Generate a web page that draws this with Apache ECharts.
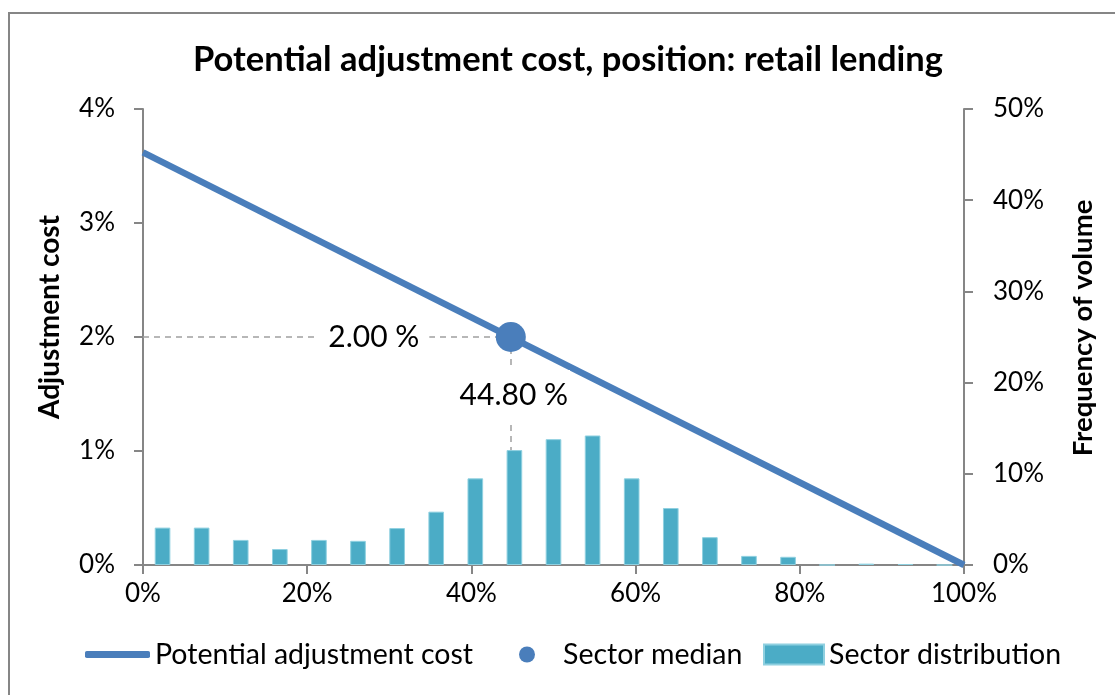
<!DOCTYPE html>
<html>
<head>
<meta charset="utf-8">
<script src="https://cdn.jsdelivr.net/npm/echarts@6/dist/echarts.min.js"></script>
<style>
html,body{margin:0;padding:0;background:#fff;}
#chart{width:1115px;height:695px;}
</style>
</head>
<body>
<div id="chart"></div>
<script>
// ---- data ----
const titleText = 'Potential adjustment cost, position: retail lending';
const xTicks = [0, 20, 40, 60, 80, 100];            // position (%)
const leftTicks = [0, 1, 2, 3, 4];                   // adjustment cost (%)
const rightTicks = [0, 10, 20, 30, 40, 50];          // frequency of volume (%)
const costLineX = [0, 100];                          // position (%)
const costLineY = [3.62, 0];                         // adjustment cost (%)
const medianX = [44.8];                              // sector median position (%)
const medianY = [2.0];                               // sector median cost (%)
const binLabels = ['1','2','3','4','5','6','7','8','9','10','11','12','13','14','15','16','17','18','19','20','21'];
const binFreq = [4.1, 4.1, 2.75, 1.75, 2.75, 2.65, 4.05, 5.85, 9.5, 12.6, 13.8, 14.2, 9.5, 6.25, 3.05, 1.0, 0.9, 0, 0.15, 0.1, 0];

const FONT = 'Lato';
const AXIS_C = '#868686';
const LINE_C = '#4a7ebb';
const BAR_C = '#4bacc6';

const chart = echarts.init(document.getElementById('chart'));
const axisCommon = {
  axisLine: {show: true, lineStyle: {color: AXIS_C, width: 2}},
  axisTick: {show: true, inside: false, length: 9, lineStyle: {color: AXIS_C, width: 2}},
  splitLine: {show: false},
  axisLabel: {color: '#000', fontFamily: FONT, fontSize: 26, formatter: '{value}%'}
};
const legendText = {fontFamily: FONT, fontSize: 28.5, color: '#000'};

const option = {
  animation: false,
  backgroundColor: '#fff',
  title: {
    text: titleText, left: 568, top: 42, textAlign: 'center', padding: 0,
    textStyle: {fontFamily: FONT, fontWeight: 'bold', fontSize: 34.5, color: '#000'}
  },
  grid: {left: 143, right: 151, top: 109, bottom: 130, containLabel: false},
  xAxis: [
    Object.assign({}, axisCommon, {
      type: 'value', min: xTicks[0], max: xTicks[xTicks.length - 1], interval: 20,
      axisLabel: Object.assign({}, axisCommon.axisLabel, {margin: 16})
    }),
    {type: 'category', data: binLabels, show: false, boundaryGap: true}
  ],
  yAxis: [
    Object.assign({}, axisCommon, {
      type: 'value', min: leftTicks[0], max: leftTicks[leftTicks.length - 1], interval: 1, position: 'left',
      axisLabel: Object.assign({}, axisCommon.axisLabel, {margin: 28})
    }),
    Object.assign({}, axisCommon, {
      type: 'value', min: rightTicks[0], max: rightTicks[rightTicks.length - 1], interval: 10, position: 'right',
      axisLabel: Object.assign({}, axisCommon.axisLabel, {margin: 29})
    })
  ],
  legend: [
    {data: [{name: 'Potential adjustment cost', icon: 'roundRect'}], left: 85, top: 640, padding: 0, itemWidth: 65, itemHeight: 7,
     textStyle: legendText},
    {data: [{name: 'Sector median', icon: 'circle'}], left: 519, top: 640, padding: 0, itemWidth: 16, itemHeight: 16,
     textStyle: Object.assign({}, legendText, {padding: [0, 0, 0, 23]})},
    {data: [{name: 'Sector distribution', icon: 'rect'}], left: 763, top: 640, padding: 0, itemWidth: 60, itemHeight: 20,
     textStyle: legendText}
  ],
  series: [
    {
      name: 'Sector distribution', type: 'bar', xAxisIndex: 1, yAxisIndex: 1,
      data: binFreq, barWidth: '40%',
      itemStyle: {color: BAR_C, borderColor: '#8fd0e0', borderWidth: 1}
    },
    {
      name: 'Potential adjustment cost', type: 'line', xAxisIndex: 0, yAxisIndex: 0,
      data: costLineX.map((x, i) => [x, costLineY[i]]),
      symbol: 'none', lineStyle: {color: LINE_C, width: 6.5}, itemStyle: {color: LINE_C}
    },
    {
      name: 'Sector median', type: 'scatter', xAxisIndex: 0, yAxisIndex: 0, z: 5,
      data: medianX.map((x, i) => [x, medianY[i]]),
      symbolSize: 30, itemStyle: {color: LINE_C, opacity: 1},
      markLine: {
        silent: true, symbol: 'none', z: 1,
        lineStyle: {color: '#a0a0a0', type: [6, 5], width: 1.5},
        label: {show: false},
        data: [
          [{coord: [xTicks[0], medianY[0]]}, {coord: [medianX[0], medianY[0]]}],
          [{coord: [medianX[0], medianY[0]]}, {coord: [medianX[0], leftTicks[0]]}]
        ]
      },
      markPoint: {
        silent: true, symbol: 'circle', symbolSize: 0,
        label: {show: true, position: 'inside', color: '#000', fontFamily: FONT, fontSize: 30, backgroundColor: '#fff'},
        data: [
          {coord: [medianX[0], medianY[0]], label: {formatter: medianY[0].toFixed(2) + ' %', offset: [-137, 0], padding: [2, 10]}},
          {coord: [medianX[0], medianY[0]], label: {formatter: medianX[0].toFixed(2) + ' %', offset: [3, 58], padding: [10, 2]}}
        ]
      }
    }
  ],
  graphic: [
    {type: 'rect', shape: {x: 9, y: 13, width: 1130, height: 720}, style: {fill: 'none', stroke: AXIS_C, lineWidth: 2}, silent: true, z: -10},
    {type: 'text', x: 50, y: 317, rotation: Math.PI / 2,
     style: {text: 'Adjustment cost', fontFamily: FONT, fontWeight: 'bold', fontSize: 28, fill: '#000', align: 'center', verticalAlign: 'middle'}},
    {type: 'text', x: 1083, y: 328, rotation: Math.PI / 2,
     style: {text: 'Frequency of volume', fontFamily: FONT, fontWeight: 'bold', fontSize: 27.5, fill: '#000', align: 'center', verticalAlign: 'middle'}}
  ]
};
chart.setOption(option);
</script>
</body>
</html>
